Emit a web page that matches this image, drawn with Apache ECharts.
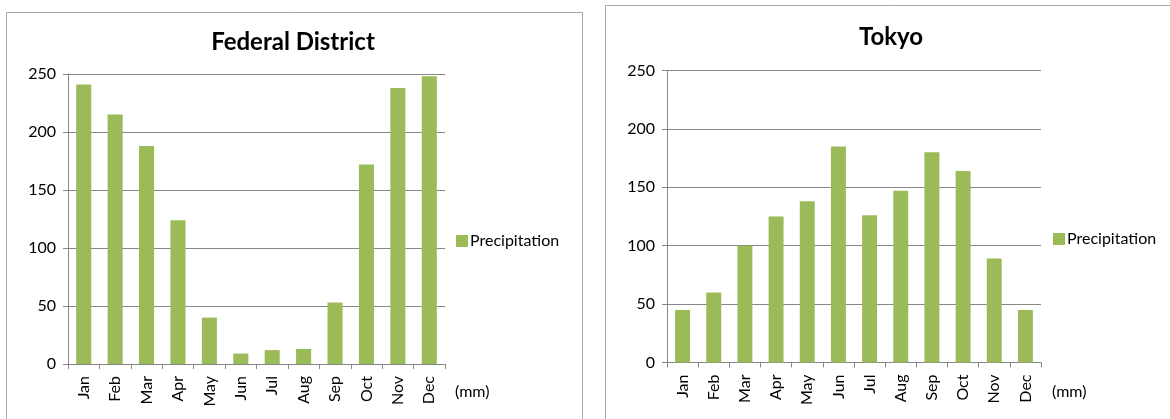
<!DOCTYPE html>
<html>
<head>
<meta charset="utf-8">
<script src="https://cdn.jsdelivr.net/npm/echarts@6/dist/echarts.min.js"></script>
<style>
  html, body { margin: 0; padding: 0; background: #ffffff; }
  #chart { width: 1170px; height: 419px; }
</style>
</head>
<body>
<div id="chart"></div>
<script>
// Monthly precipitation (mm)
const months = ['Jan', 'Feb', 'Mar', 'Apr', 'May', 'Jun', 'Jul', 'Aug', 'Sep', 'Oct', 'Nov', 'Dec'];
const federalDistrict = [241, 215, 188, 124, 40, 9, 12, 13, 53, 172, 238, 248];
const tokyo = [45, 60, 100, 125, 138, 185, 126, 147, 180, 164, 89, 45];
const yTicks = [0, 50, 100, 150, 200, 250];
const seriesName = 'Precipitation';
const unitLabel = '(mm)';

const FONT = 'Lato, "Open Sans", sans-serif';
const BAR = '#9BBB59';
const GRID = '#878787';
const TEXT = '#000000';
const SMALL = 16;

function yAxisFor(gridIndex) {
  return {
    type: 'value', gridIndex,
    min: yTicks[0], max: yTicks[yTicks.length - 1],
    interval: yTicks[1] - yTicks[0],
    axisLine: { show: true, lineStyle: { color: GRID, width: 1 } },
    axisTick: { show: true, length: 5, lineStyle: { color: GRID } },
    splitLine: { show: true, lineStyle: { color: GRID, width: 1 } },
    axisLabel: { color: TEXT, fontFamily: FONT, fontSize: SMALL, margin: 12 }
  };
}
function xAxisFor(gridIndex) {
  return {
    type: 'category', gridIndex, data: months,
    axisLine: { show: true, lineStyle: { color: GRID, width: 1 } },
    axisTick: { show: true, length: 5, alignWithLabel: false, lineStyle: { color: GRID } },
    axisLabel: { color: TEXT, fontFamily: FONT, fontSize: SMALL, rotate: 90, margin: 12, interval: 0 }
  };
}
function legendFor(left, top) {
  return {
    data: [seriesName], left, top, orient: 'vertical', padding: 0,
    icon: 'rect', itemWidth: 12, itemHeight: 12, selectedMode: false,
    textStyle: { color: TEXT, fontFamily: FONT, fontSize: SMALL, padding: [0, 0, 0, -3] }
  };
}

const chart = echarts.init(document.getElementById('chart'), null, { renderer: 'canvas' });
chart.setOption({
  backgroundColor: '#ffffff',
  animation: false,
  title: [
    { text: 'Federal District', left: 293, top: 30, textAlign: 'center', padding: 0,
      textStyle: { fontFamily: FONT, fontSize: 24, fontWeight: 'bold', color: TEXT } },
    { text: 'Tokyo', left: 891, top: 25, textAlign: 'center', padding: 0,
      textStyle: { fontFamily: FONT, fontSize: 24, fontWeight: 'bold', color: TEXT } }
  ],
  legend: [legendFor(456, 233), legendFor(1053, 231)],
  grid: [
    { left: 68, top: 74, width: 377, height: 290 },
    { left: 667, top: 70.5, width: 374, height: 292 }
  ],
  xAxis: [xAxisFor(0), xAxisFor(1)],
  yAxis: [yAxisFor(0), yAxisFor(1)],
  series: [
    { name: seriesName, type: 'bar', xAxisIndex: 0, yAxisIndex: 0, data: federalDistrict,
      barWidth: '48%', itemStyle: { color: BAR } },
    { name: seriesName, type: 'bar', xAxisIndex: 1, yAxisIndex: 1, data: tokyo,
      barWidth: '48%', itemStyle: { color: BAR } }
  ],
  graphic: [
    // chart area frames
    { type: 'rect', z: -1, shape: { x: 6.5, y: 12.5, width: 576, height: 440 },
      style: { fill: '#ffffff', stroke: '#a5a5a5', lineWidth: 1 } },
    { type: 'rect', z: -1, shape: { x: 605.5, y: 5.5, width: 600, height: 440 },
      style: { fill: '#ffffff', stroke: '#a5a5a5', lineWidth: 1 } },
    // unit labels beside the month axes
    { type: 'text', left: 455, top: 384,
      style: { text: unitLabel, fontFamily: FONT, fontSize: SMALL, fill: TEXT } },
    { type: 'text', left: 1052, top: 384,
      style: { text: unitLabel, fontFamily: FONT, fontSize: SMALL, fill: TEXT } }
  ]
});
</script>
</body>
</html>
